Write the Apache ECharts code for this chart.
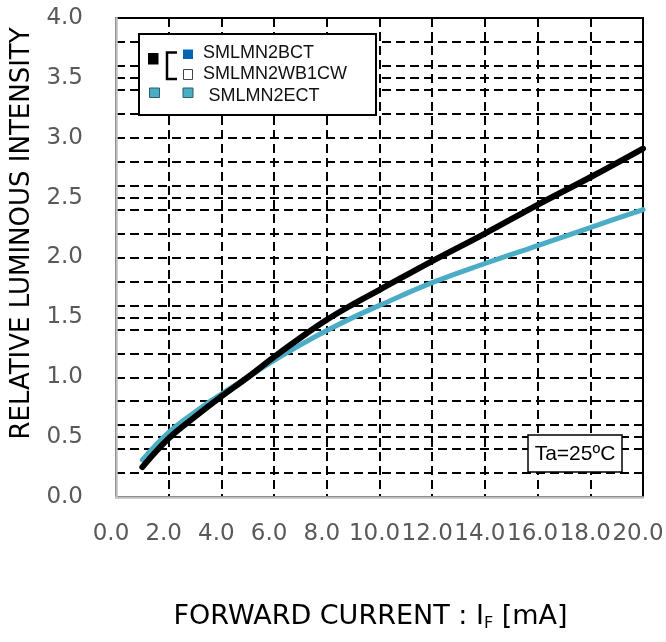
<!DOCTYPE html>
<html><head><meta charset="utf-8">
<script src="https://cdn.jsdelivr.net/npm/echarts@6/dist/echarts.min.js"></script>
<style>html,body{margin:0;padding:0;background:#fff}#c{width:666px;height:642px}</style>
</head><body><div id="c"></div>
<script>
// ---- data ----
const seriesNames = ['SMLMN2BCT', 'SMLMN2WB1CW', 'SMLMN2ECT'];
const currentBCT = [1, 2, 3, 4, 5, 6, 7, 8, 9, 10, 12, 14, 16, 18, 20];
const intensityBCT = [0.25, 0.49, 0.67, 0.84, 1.0, 1.17, 1.33, 1.48, 1.61, 1.73, 1.97, 2.20, 2.44, 2.67, 2.91];
const currentECT = [1, 2, 3, 4, 5, 6, 7, 8, 9, 10, 12, 14, 16, 18, 20];
const intensityECT = [0.31, 0.54, 0.71, 0.86, 1.0, 1.14, 1.27, 1.39, 1.50, 1.60, 1.79, 1.95, 2.10, 2.25, 2.40];
const xTitle = 'FORWARD CURRENT : I{sub|F} [mA]';
const yTitle = 'RELATIVE LUMINOUS INTENSITY';
const noteText = 'Ta=25ºC';

const chart = echarts.init(document.getElementById('c'), null, {renderer: 'canvas'});
const dash = {color: '#000', width: 2, type: [9, 5]};
const tickFont = {color: '#595959', fontFamily: 'DejaVu Sans', fontSize: 23};
const legendFont = '18px "Liberation Sans", Arial, sans-serif';

const option = {
  animation: false,
  backgroundColor: '#fff',
  grid: {left: 116, right: 23, top: 18, bottom: 145, show: true, borderColor: '#000', borderWidth: 2,
         backgroundColor: 'transparent', containLabel: false, outerBoundsMode: 'none'},
  xAxis: {
    type: 'value', min: 0, max: 20, interval: 2,
    axisLine: {show: true, lineStyle: {color: '#bfbfbf', width: 2.5}},
    axisTick: {show: false},
    axisLabel: Object.assign({formatter: v => v.toFixed(1), margin: 26, padding: [0, 10, 0, 0],
                showMinLabel: true, showMaxLabel: true, hideOverlap: false}, tickFont),
    splitLine: {show: true, lineStyle: dash},
    name: xTitle, nameLocation: 'middle', nameGap: 105,
    nameTextStyle: {color: '#000', fontFamily: 'DejaVu Sans', fontSize: 27, lineHeight: 30, padding: [0, 18, 0, 0],
      rich: {sub: {fontSize: 16, fontFamily: 'DejaVu Sans', color: '#000', lineHeight: 22, verticalAlign: 'bottom'}}}
  },
  yAxis: [{
    type: 'value', min: 0, max: 4, interval: 0.5,
    axisLine: {show: true, lineStyle: {color: '#bfbfbf', width: 2.5}},
    axisTick: {show: false},
    axisLabel: Object.assign({formatter: v => v.toFixed(1), margin: 33, padding: [5, 0, 0, 0],
                showMinLabel: true, showMaxLabel: true}, tickFont),
    splitLine: {show: true, lineStyle: dash},
    name: yTitle, nameLocation: 'middle', nameGap: 79, nameRotate: 90,
    nameTextStyle: {color: '#000', fontFamily: 'DejaVu Sans', fontSize: 26, padding: [0, 0, 0, 48]}
  }, {
    type: 'value', min: 0, max: 4, interval: 0.2, position: 'left',
    axisLine: {show: false}, axisTick: {show: false}, axisLabel: {show: false},
    splitLine: {show: true, lineStyle: dash}
  }],
  series: [{
    type: 'line', name: seriesNames[2], yAxisIndex: 0,
    data: currentECT.map((x, i) => [x, intensityECT[i]]),
    showSymbol: false, smooth: 0.4, z: 3,
    lineStyle: {color: '#4bacc6', width: 5, cap: 'round'}
  }, {
    type: 'line', name: seriesNames[0] + ' / ' + seriesNames[1], yAxisIndex: 0,
    data: currentBCT.map((x, i) => [x, intensityBCT[i]]),
    showSymbol: false, smooth: 0.4, z: 4,
    lineStyle: {color: '#000', width: 6, cap: 'round'}
  }],
  graphic: [
    {type: 'rect', z: 100, shape: {x: 139, y: 34, width: 237, height: 81}, style: {fill: '#fff', stroke: '#000', lineWidth: 2}},
    {type: 'rect', z: 101, shape: {x: 148, y: 53, width: 10.5, height: 11.5}, style: {fill: '#000'}},
    {type: 'polyline', z: 101, shape: {points: [[177, 52.5], [167, 52.5], [167, 79], [177, 79]]}, style: {stroke: '#000', lineWidth: 2.5, fill: null}},
    {type: 'rect', z: 101, shape: {x: 183, y: 49.5, width: 10, height: 9.5}, style: {fill: '#0066b3'}},
    {type: 'rect', z: 101, shape: {x: 183.5, y: 69.5, width: 9, height: 10}, style: {fill: '#fff', stroke: '#444', lineWidth: 1}},
    {type: 'rect', z: 101, shape: {x: 149.5, y: 88, width: 10, height: 9.5}, style: {fill: '#4bacc6', stroke: '#2b5d6b', lineWidth: 1}},
    {type: 'rect', z: 101, shape: {x: 183, y: 88, width: 10, height: 9.5}, style: {fill: '#4bacc6', stroke: '#2b5d6b', lineWidth: 1}},
    {type: 'text', z: 101, x: 203, y: 53, style: {text: seriesNames[0], font: legendFont, fill: '#111', verticalAlign: 'middle'}},
    {type: 'text', z: 101, x: 203, y: 74, style: {text: seriesNames[1], font: legendFont, fill: '#111', verticalAlign: 'middle'}},
    {type: 'text', z: 101, x: 208.5, y: 96, style: {text: seriesNames[2], font: legendFont, fill: '#111', verticalAlign: 'middle'}},
    {type: 'rect', z: 100, shape: {x: 528, y: 435, width: 94, height: 37}, style: {fill: '#fff', stroke: '#000', lineWidth: 1.5}},
    {type: 'text', z: 101, x: 575, y: 454, style: {text: noteText, font: '21px "Liberation Sans", Arial, sans-serif', fill: '#000', align: 'center', verticalAlign: 'middle'}}
  ]
};
chart.setOption(option);
</script>
</body></html>
